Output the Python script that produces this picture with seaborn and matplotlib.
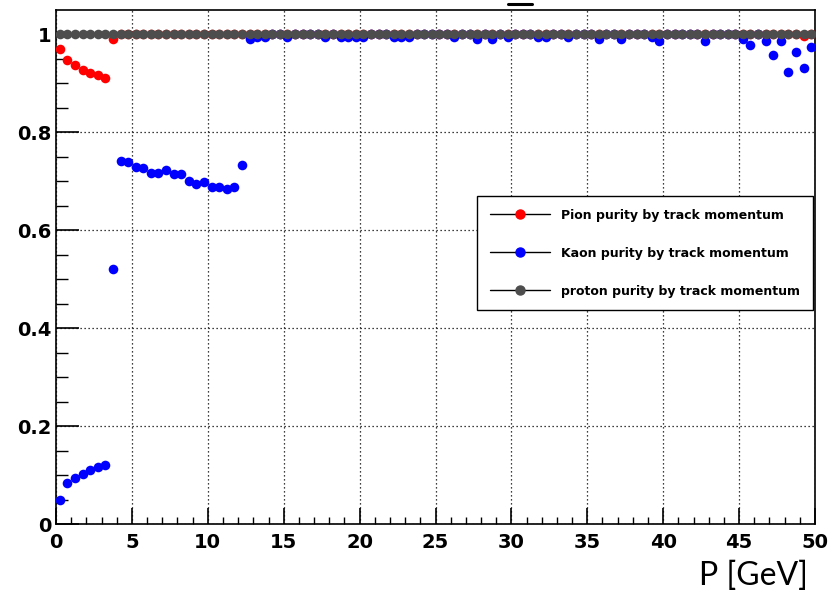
import matplotlib
matplotlib.use('Agg')
import matplotlib.pyplot as plt
from matplotlib.lines import Line2D
from matplotlib.ticker import MultipleLocator
import numpy as np
import pandas as pd
import seaborn as sns

# 100 bins of 0.5 GeV from 0 to 50
bin_width = 0.5
p_centers = np.arange(100) * bin_width + bin_width / 2

pion_low = [0.969, 0.947, 0.937, 0.927, 0.921, 0.916, 0.911, 0.989]
pion = pion_low + [1.0] * 92
pion[98] = 0.996

kaon_low = [0.050, 0.083, 0.094, 0.102, 0.111, 0.116, 0.121, 0.520,
            0.741, 0.738, 0.728, 0.727, 0.716, 0.716, 0.722, 0.714, 0.714,
            0.700, 0.694, 0.697, 0.688, 0.687, 0.683, 0.688, 0.733]
kaon = kaon_low + [1.0] * 75
kaon_dips = {12.75: 0.990, 13.25: 0.993, 13.75: 0.993, 15.25: 0.994, 17.75: 0.994,
             18.75: 0.994, 19.25: 0.994, 19.75: 0.994, 20.25: 0.994, 22.25: 0.994,
             22.75: 0.994, 23.25: 0.994, 26.25: 0.993, 27.75: 0.990, 28.75: 0.990,
             29.75: 0.993, 31.75: 0.993, 32.25: 0.993, 33.75: 0.994, 35.75: 0.990,
             37.25: 0.990, 39.25: 0.994, 39.75: 0.986, 42.75: 0.986, 45.25: 0.989,
             45.75: 0.978, 46.75: 0.986, 47.25: 0.958, 47.75: 0.986, 48.25: 0.922,
             48.75: 0.964, 49.25: 0.930, 49.75: 0.973}
for p, v in kaon_dips.items():
    kaon[int(p / bin_width)] = v

proton = [1.0] * 100

labels = ["Pion purity by track momentum",
          "Kaon purity by track momentum",
          "proton purity by track momentum"]
colors = ["#ff0000", "#0000ff", "#4d4d4d"]

df = pd.concat([
    pd.DataFrame({"P": p_centers, "purity": vals, "species": lab})
    for vals, lab in zip([pion, kaon, proton], labels)
], ignore_index=True)

sns.set_style("white")
plt.rcParams['font.family'] = ['DejaVu Sans']
plt.rcParams['text.color'] = 'black'

fig = plt.figure(figsize=(8.3, 5.95), dpi=100)
ax = fig.add_axes([56 / 830, 1 - 524 / 595, 759 / 830, 514 / 595])

for lab, col in zip(labels, colors):
    sub = df[df["species"] == lab]
    ax.errorbar(sub["P"], sub["purity"], xerr=bin_width / 2, fmt='none',
                ecolor=col, elinewidth=1.0, capsize=0, zorder=2)
    sns.scatterplot(data=sub, x="P", y="purity", color=col, s=48,
                    linewidth=0, marker='o', ax=ax, zorder=3, legend=False)

ax.set_xlim(0, 50)
ax.set_ylim(0, 1.049)
ax.xaxis.set_major_locator(MultipleLocator(5))
ax.xaxis.set_minor_locator(MultipleLocator(1))
ax.yaxis.set_minor_locator(MultipleLocator(0.05))
ax.set_yticks([0, 0.2, 0.4, 0.6, 0.8, 1.0])
ax.set_yticklabels(["0", "0.2", "0.4", "0.6", "0.8", "1"])

ax.grid(True, which='major', color='black', linestyle=(0, (1, 2.2)), linewidth=0.9)
ax.tick_params(axis='both', which='both', direction='in', color='black',
               labelcolor='black', labelsize=14,
               bottom=True, left=True, top=False, right=False)
ax.tick_params(axis='y', which='major', length=16.5, width=1.2, pad=3.5)
ax.tick_params(axis='y', which='minor', length=8.5, width=1.0)
ax.tick_params(axis='x', which='major', length=11.3, width=1.2, pad=6.5)
ax.tick_params(axis='x', which='minor', length=5.3, width=1.0)
for lbl in ax.get_xticklabels() + ax.get_yticklabels():
    lbl.set_fontweight('bold')

for side in ['left', 'bottom', 'top', 'right']:
    ax.spines[side].set_visible(True)
    ax.spines[side].set_color('black')
    ax.spines[side].set_linewidth(1.2)
ax.set_xlabel("")
ax.set_ylabel("")

handles = [Line2D([0], [0], color='black', linewidth=1.0, marker='o', markersize=6.5,
                  markerfacecolor=c, markeredgecolor=c) for c in colors]
leg = ax.legend(handles, labels, loc='upper right', bbox_to_anchor=(0.997, 0.638),
                borderaxespad=0, frameon=True, fancybox=False, framealpha=1,
                edgecolor='black', prop={'weight': 'bold', 'size': 9},
                handlelength=4.8, handletextpad=0.9, labelspacing=2.0,
                borderpad=1.0)
leg.get_frame().set_linewidth(1.0)

fig.text(808 / 830, 1 - 576 / 595, "P [GeV]", ha='right', va='center',
         fontsize=23, color='black', family=['Lato', 'DejaVu Sans'])
# cut-off title remnant at the top edge
fig.add_artist(Line2D([508 / 830, 532 / 830], [1 - 3.5 / 595, 1 - 3.5 / 595],
                      color='black', linewidth=2.2, transform=fig.transFigure))

fig.savefig("out.png", dpi=100)
